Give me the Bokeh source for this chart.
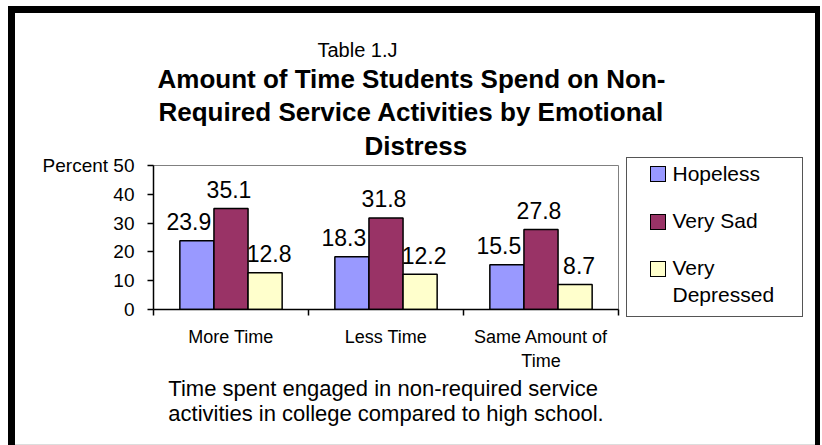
from bokeh.plotting import figure
from bokeh.models import (Range1d, FixedTicker, Title, LinearAxis,
                          ColumnDataSource, InlineStyleSheet)
from bokeh.transform import dodge
from bokeh.core.properties import value
from bokeh.embed import file_html
from bokeh.resources import INLINE

# ---- data -------------------------------------------------------------
categories = ["More Time", "Less Time", "Same Amount of\nTime"]
series_names = ["Hopeless", "Very Sad", "Very\nDepressed"]
hopeless = [23.9, 18.3, 15.5]
very_sad = [35.1, 31.8, 27.8]
very_depressed = [12.8, 12.2, 8.7]
y_ticks = [0, 10, 20, 30, 40, 50]

title_top = "Table 1.J"
title_lines = ["Amount of Time Students Spend on Non-",
               "Required Service Activities by Emotional",
               "Distress"]
x_title = "Time spent engaged in non-required service\nactivities in college compared to high school."
y_title = "Percent"

# ---- styling ----------------------------------------------------------
FONT = "Liberation Sans"
colors = ["#9999FF", "#993366", "#FFFFCC"]
bar_w = 0.22
offsets = [-bar_w, 0.0, bar_w]
label_dx = [-8, -2, 4]

W, H = 822, 445
FL, FR, FT, FB = 153, 618, 165, 309   # plot frame edges on the canvas

# legend geometry (canvas pixels)
LEG_BOX = (626, 157, 177, 160)            # left, top, width, height
LEG_TEXT_Y = [172.5, 220, 280.5]          # vertical centre of each entry's text
LEG_SWATCH_TOP = [166, 214, 261]
LEG_SWATCH_LEFT = 650

n = len(categories)
centers = [i + 0.5 for i in range(n)]     # each category occupies one unit

src = ColumnDataSource(dict(
    pos=centers,
    hopeless=hopeless, very_sad=very_sad, very_depressed=very_depressed,
    hopeless_t=[f"{v:.1f}" for v in hopeless],
    very_sad_t=[f"{v:.1f}" for v in very_sad],
    very_depressed_t=[f"{v:.1f}" for v in very_depressed],
))

# sheet border, legend box and legend swatches are painted with CSS
lx, ly, lw, lh = LEG_BOX
layers = []
for col, top in zip(colors, LEG_SWATCH_TOP):
    ox, oy = LEG_SWATCH_LEFT - (lx + 1), top - (ly + 1)
    layers.append(f"linear-gradient({col},{col}) {ox + 1}px {oy + 1}px / 14px 14px no-repeat")
    layers.append(f"linear-gradient(#000,#000) {ox}px {oy}px / 16px 16px no-repeat")
sheet_css = InlineStyleSheet(css=f"""
:host::before {{
  content: ""; position: absolute; left: 8px; top: 6px; width: 812px; height: 439px;
  box-sizing: border-box; border-left: 7px solid #000; border-top: 7px solid #000;
  border-right: 5px solid #000; pointer-events: none; z-index: 10;
  background: linear-gradient(#dddddd,#dddddd) left bottom / 100% 1px no-repeat;
}}
:host::after {{
  content: ""; position: absolute; left: {lx}px; top: {ly}px; width: {lw}px; height: {lh}px;
  box-sizing: border-box; border: 1px solid #555; pointer-events: none; z-index: 10;
  background: {", ".join(layers)};
}}
""")

p = figure(x_range=Range1d(0, n), y_range=Range1d(0, 50), title=None,
           frame_width=FR - FL, frame_height=FB - FT,
           output_backend="svg", toolbar_location=None,
           min_border_left=FL, min_border_right=W - FR,
           min_border_top=FT, min_border_bottom=H - FB,
           stylesheets=[sheet_css])
p.grid.visible = False
p.outline_line_color = "#808080"
p.outline_line_width = 1
p.background_fill_color = "white"
p.border_fill_color = "white"

# y axis
ya = p.yaxis[0]
ya.ticker = FixedTicker(ticks=y_ticks)
ya.major_label_overrides = {y_ticks[-1]: f"{y_title} {y_ticks[-1]}"}
ya.major_tick_out = 6
ya.major_tick_in = 0
ya.minor_tick_line_color = None
ya.axis_line_color = "black"
ya.axis_line_width = 1.5
ya.major_tick_line_color = "black"
ya.major_tick_line_width = 1.5
ya.major_label_text_font = FONT
ya.major_label_text_font_size = "19px"
ya.major_label_text_color = "black"
ya.major_label_standoff = 13

# x axis: names at category centres, tick marks at category edges
xa = p.xaxis[0]
xa.ticker = FixedTicker(ticks=centers, minor_ticks=list(range(n + 1)))
xa.major_label_overrides = {c: name for c, name in zip(centers, categories)}
xa.major_tick_line_color = None
xa.major_tick_out = 6
xa.minor_tick_out = 6
xa.minor_tick_in = 0
xa.minor_tick_line_color = "black"
xa.minor_tick_line_width = 1.5
xa.axis_line_color = "black"
xa.axis_line_width = 1.5
xa.major_label_text_font = FONT
xa.major_label_text_font_size = "18px"
xa.major_label_text_color = "black"
xa.major_label_standoff = 11

# bars and value labels
fields = ["hopeless", "very_sad", "very_depressed"]
for f, col, off, dx in zip(fields, colors, offsets, label_dx):
    p.vbar(x=dodge("pos", off), top=f, width=bar_w, bottom=0,
           source=src, fill_color=col, line_color="black", line_width=1.5)
    p.text(x=dodge("pos", off), y=f, text=f + "_t", source=src,
           text_align="center", text_baseline="alphabetic",
           x_offset=dx, y_offset=-19,
           text_font=value(FONT), text_font_size="23px", text_color="black")

# legend entries: a label-only axis whose range maps straight to canvas pixels
p.extra_y_ranges = {"legend": Range1d(start=FB, end=FT)}
leg_axis = LinearAxis(y_range_name="legend", ticker=FixedTicker(ticks=LEG_TEXT_Y),
                      major_label_overrides={y: nm for y, nm in zip(LEG_TEXT_Y, series_names)},
                      axis_line_color=None, major_tick_line_color=None,
                      minor_tick_line_color=None, major_tick_out=0, major_tick_in=0,
                      major_label_standoff=LEG_SWATCH_LEFT + 22 - FR,
                      major_label_text_font=FONT, major_label_text_font_size="21px",
                      major_label_text_color="black")
p.add_layout(leg_axis, "right")

# titles above the plot (first added sits closest to the frame)
p.add_layout(Title(text=title_lines[2], align="left", offset=211, vertical_align="top",
                   standoff=6, text_font=FONT, text_font_size="26px",
                   text_font_style="bold", text_color="black"), "above")
p.add_layout(Title(text=title_lines[1], align="left", offset=5, vertical_align="bottom",
                   standoff=1, text_font=FONT, text_font_size="26px",
                   text_font_style="bold", text_color="black"), "above")
p.add_layout(Title(text=title_lines[0], align="left", offset=4, vertical_align="bottom",
                   standoff=2, text_font=FONT, text_font_size="26px",
                   text_font_style="bold", text_color="black"), "above")
p.add_layout(Title(text=title_top, align="left", offset=164, vertical_align="bottom",
                   standoff=0, text_font=FONT, text_font_size="20px",
                   text_font_style="normal", text_color="black"), "above")

# caption under the category axis
p.add_layout(Title(text=x_title, align="center", vertical_align="top", standoff=4,
                   text_font=FONT, text_font_size="22px", text_font_style="normal",
                   text_color="black"), "below")

open("out.html", "w").write(file_html(p, INLINE))
